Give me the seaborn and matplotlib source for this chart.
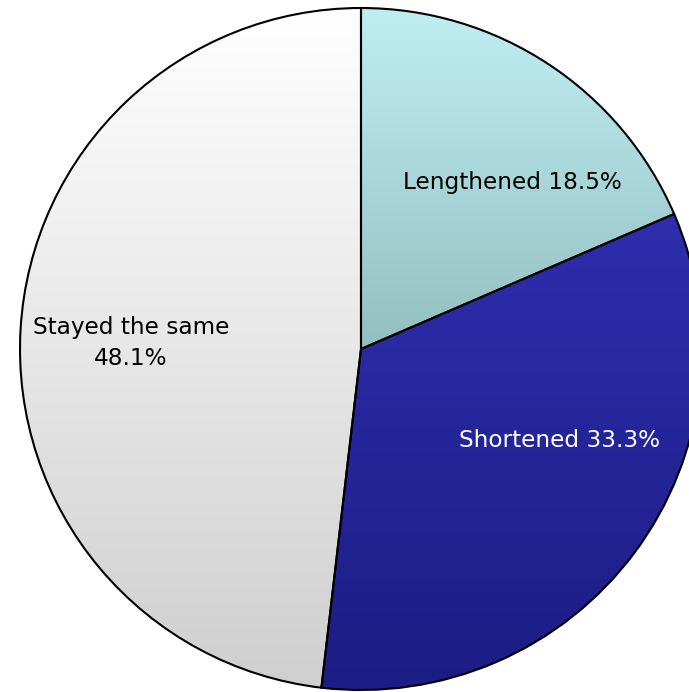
import numpy as np
import matplotlib
matplotlib.use("Agg")
import matplotlib.pyplot as plt
import seaborn as sns
from matplotlib.colors import LinearSegmentedColormap

sns.set_theme(style="white")
plt.rcParams['font.family'] = ['DejaVu Sans']

# Data
categories = ["Lengthened", "Shortened", "Stayed the same"]
values = [18.5, 33.3, 48.1]
labels = ["Lengthened 18.5%", "Shortened 33.3%", "Stayed the same\n48.1%"]

# Styling
top_colors = ["#bfeef2", "#2e2eae", "#ffffff"]
bottom_colors = ["#94bfc0", "#1c1c84", "#cfcfcf"]
text_colors = ["black", "white", "black"]
# label positions: (angle deg, distance in radius units)
label_pos = [(47.7, 0.66), (-24.8, 0.64), (178.5, 0.675)]

W, H = 689, 692
fig = plt.figure(figsize=(W / 100, H / 100), dpi=100)
fig.patch.set_facecolor("white")
ax = fig.add_axes([0, 0, 1, 1])

cx, cy, R = 361, H - 349, 341
wedges, _ = ax.pie(values, startangle=90, counterclock=False, radius=R,
                   center=(cx, cy), colors=top_colors,
                   wedgeprops=dict(edgecolor="black", linewidth=1.5))
ax.set_xlim(0, W)
ax.set_ylim(0, H)
ax.set_aspect("equal")
ax.axis("off")

fig.canvas.draw()
grad = np.linspace(0, 1, 256).reshape(-1, 1)
for w, tc, bc in zip(wedges, top_colors, bottom_colors):
    path = w.get_path().transformed(w.get_patch_transform())
    verts = path.vertices
    y0, y1 = verts[:, 1].min(), verts[:, 1].max()
    x0, x1 = verts[:, 0].min(), verts[:, 0].max()
    cmap = LinearSegmentedColormap.from_list("g", [bc, tc])
    im = ax.imshow(grad, cmap=cmap, extent=(x0, x1, y0, y1), origin="lower",
                   aspect="auto", zorder=w.get_zorder() - 0.1, interpolation="bilinear")
    im.set_clip_path(w)
    w.set_facecolor("none")

ax.set_xlim(0, W)
ax.set_ylim(0, H)

for lab, (ang, d), col in zip(labels, label_pos, text_colors):
    a = np.deg2rad(ang)
    ax.text(cx + d * R * np.cos(a), cy + d * R * np.sin(a), lab,
            ha="center", va="center", fontsize=16.7, color=col, zorder=10,
            linespacing=1.45)

fig.savefig("out.png", dpi=100, facecolor="white")
